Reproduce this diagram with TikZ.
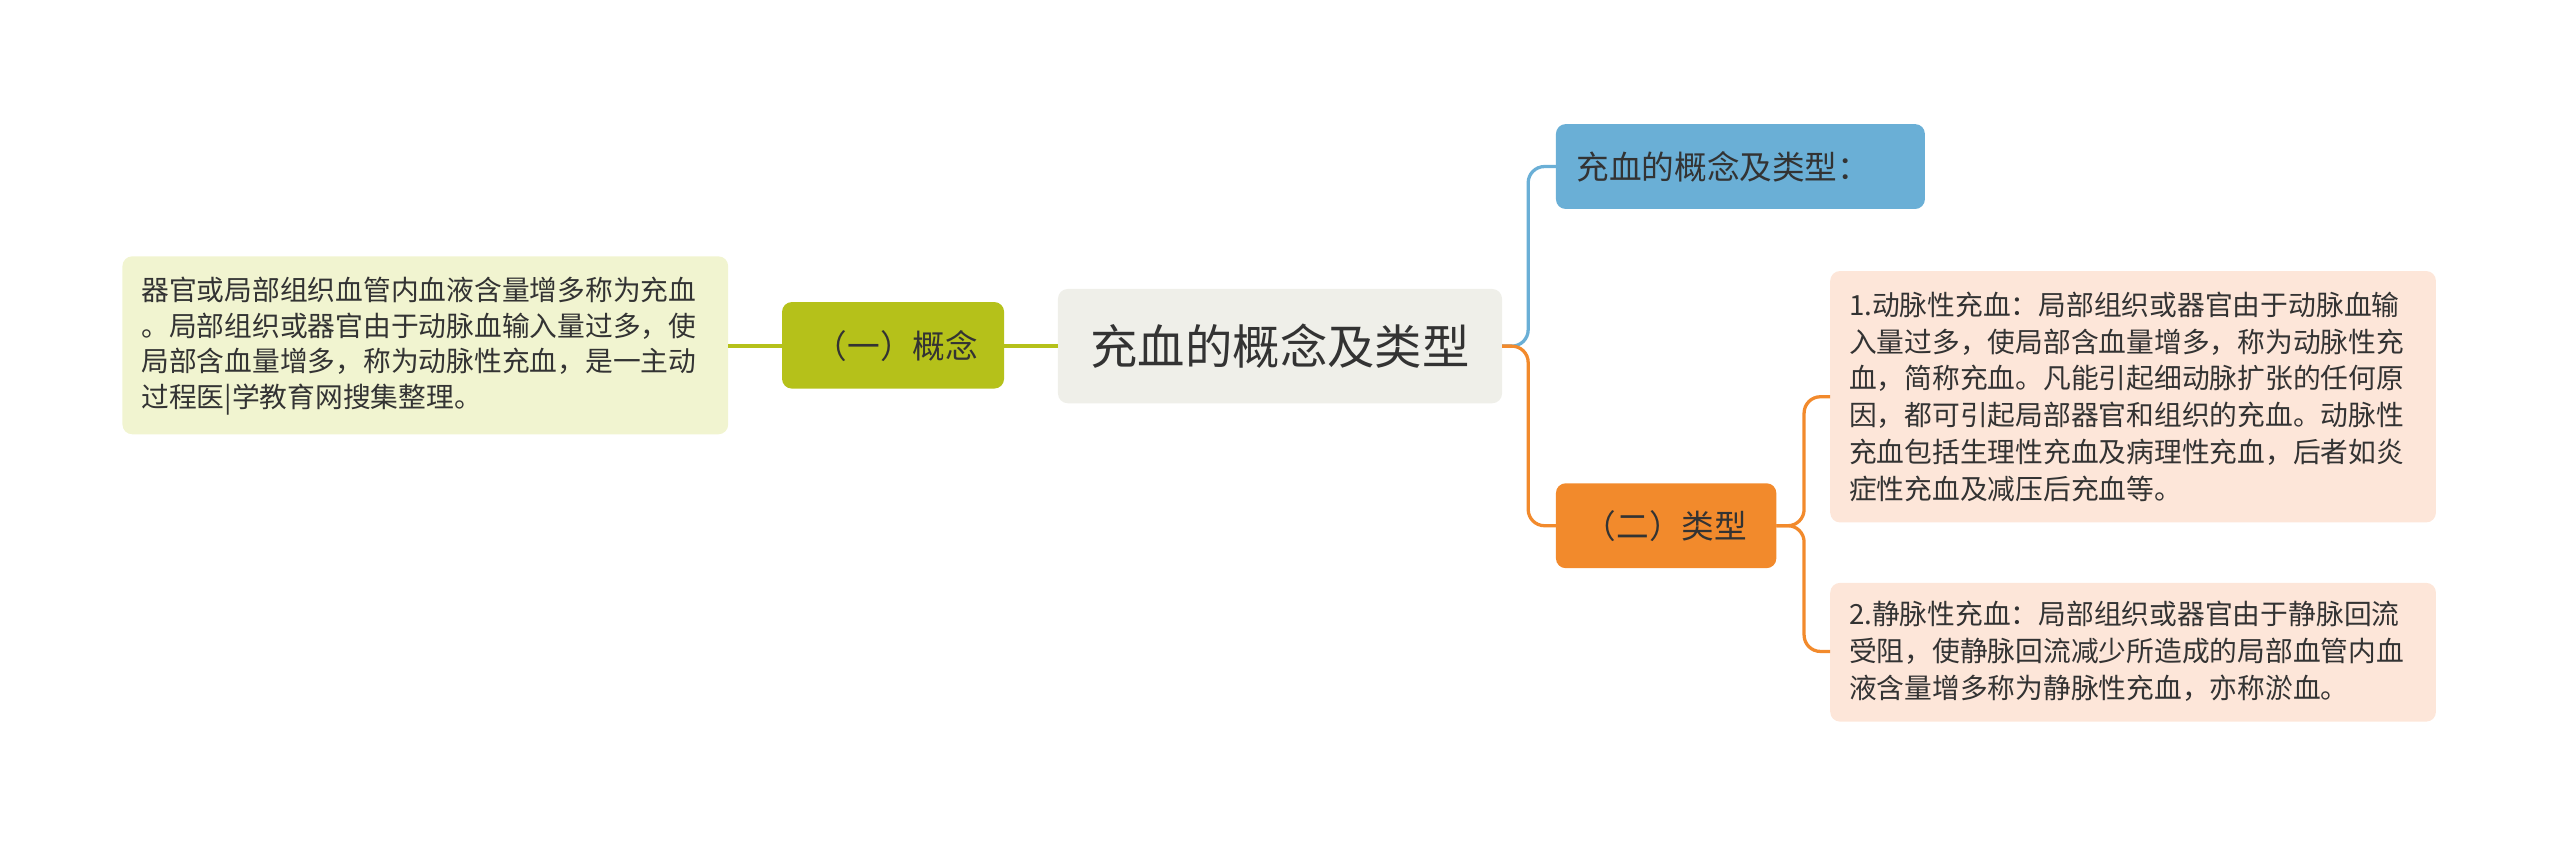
\documentclass[tikz,border=0pt]{standalone}
\usepackage{fontspec}
\setmainfont{Noto Sans CJK SC}
\definecolor{cgray}{HTML}{EFEFE9}
\definecolor{cgreen}{HTML}{B5C11A}
\definecolor{cgleaf}{HTML}{F1F4D0}
\definecolor{cblue}{HTML}{6AAFD6}
\definecolor{corange}{HTML}{F28A2C}
\definecolor{cpeach}{HTML}{FDE6D9}
\definecolor{ctext}{HTML}{333333}
\begin{document}
\begin{tikzpicture}[x=1pt,y=-1pt,
 lbl/.style={text=ctext,font=\fontsize{20}{24}\selectfont},
 leaftxt/.style={font=\fontsize{17}{22.5}\selectfont,align=left,text=ctext}]
\useasboundingbox (0,0) rectangle (1568,520);
\fill[cgray,rounded corners=6pt] (648,177) rectangle (920,247);
\node[text=ctext,font=\fontsize{29}{32}\selectfont] (c) at (784,212) {充血的概念及类型};
\coordinate (cl) at (648,212); \coordinate (cr) at (920,212);
\fill[cgreen,rounded corners=6pt] (479,185) rectangle (615,238);
\node[lbl] (l1) at (549,212) {（一）概念};
\coordinate (l1r) at (615,212); \coordinate (l1l) at (479,212);
\fill[cgleaf,rounded corners=6pt] (75,157) rectangle (446,266);
\node[leaftxt,anchor=west,font=\fontsize{17}{22}\selectfont] (ll) at (83,212) {器官或局部组织血管内血液含量增多称为充血\\。局部组织或器官由于动脉血输入量过多，使\\局部含血量增多，称为动脉性充血，是一主动\\过程医|学教育网搜集整理。};
\coordinate (llr) at (446,212);
\fill[cblue,rounded corners=6pt] (953,76) rectangle (1179,128);
\node[lbl,anchor=west] (b) at (962,102) {充血的概念及类型：};
\coordinate (bl) at (953,102);
\fill[corange,rounded corners=6pt] (953,296) rectangle (1088,348);
\node[lbl] (o) at (1020,322) {（二）类型};
\coordinate (ol) at (953,322); \coordinate (or) at (1088,322);
\fill[cpeach,rounded corners=6pt] (1121,166) rectangle (1492,320);
\node[leaftxt,anchor=west] (r1) at (1129,243) {1.动脉性充血：局部组织或器官由于动脉血输\\入量过多，使局部含血量增多，称为动脉性充\\血，简称充血。凡能引起细动脉扩张的任何原\\因，都可引起局部器官和组织的充血。动脉性\\充血包括生理性充血及病理性充血，后者如炎\\症性充血及减压后充血等。};
\coordinate (r1l) at (1121,243);
\fill[cpeach,rounded corners=6pt] (1121,357) rectangle (1492,442);
\node[leaftxt,anchor=west] (r2) at (1129,399) {2.静脉性充血：局部组织或器官由于静脉回流\\受阻，使静脉回流减少所造成的局部血管内血\\液含量增多称为静脉性充血，亦称淤血。};
\coordinate (r2l) at (1121,399);
\draw[cgreen,line width=2pt] (cl) -- (l1r);
\draw[cgreen,line width=2pt] (l1l) -- (llr);
\draw[cblue,line width=2pt,rounded corners=10pt] (cr) -- (936,212) -- (936,102) -- (bl);
\draw[corange,line width=2pt,rounded corners=10pt] (cr) -- (936,212) -- (936,322) -- (ol);
\draw[corange,line width=2pt,rounded corners=10pt] (or) -- (1105,322) -- (1105,243) -- (r1l);
\draw[corange,line width=2pt,rounded corners=10pt] (or) -- (1105,322) -- (1105,399) -- (r2l);
\end{tikzpicture}
\end{document}
